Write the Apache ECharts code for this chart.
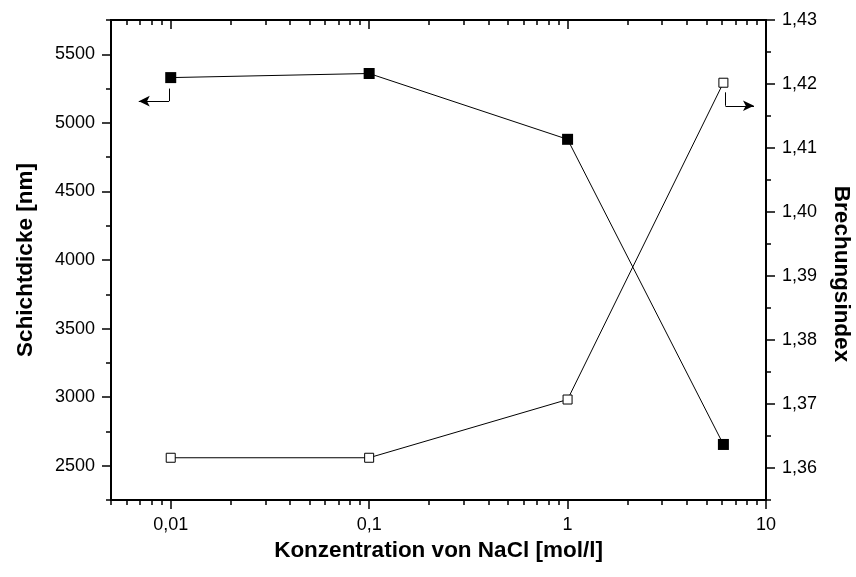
<!DOCTYPE html>
<html>
<head>
<meta charset="utf-8">
<script src="https://cdn.jsdelivr.net/npm/echarts@6/dist/echarts.min.js"></script>
<style>
  html, body { margin: 0; padding: 0; background: #fff; }
  #chart { width: 856px; height: 577px; }
</style>
</head>
<body>
<div id="chart"></div>
<script>
// NaCl concentration in mol/l
const concentration = [0.01, 0.1, 1, 6.1];
// Layer thickness in nm (left axis, filled squares)
const thickness = [5330, 5360, 4880, 2655];
// Refractive index (right axis, open squares)
const refractiveIndex = [1.3616, 1.3616, 1.3707, 1.4202];

// Tick values
const xMajorTicks = [0.01, 0.1, 1, 10];
const xMinorTicks = [0.005, 0.006, 0.007, 0.008, 0.009,
  0.02, 0.03, 0.04, 0.05, 0.06, 0.07, 0.08, 0.09,
  0.2, 0.3, 0.4, 0.5, 0.6, 0.7, 0.8, 0.9,
  2, 3, 4, 5, 6, 7, 8, 9];
const leftMajorTicks = [2500, 3000, 3500, 4000, 4500, 5000, 5500];
const leftMinorTicks = [2250, 2750, 3250, 3750, 4250, 4750, 5250, 5750];
const rightMajorTicks = [1.36, 1.37, 1.38, 1.39, 1.40, 1.41, 1.42, 1.43];
const rightMinorTicks = [1.355, 1.365, 1.375, 1.385, 1.395, 1.405, 1.415, 1.425];

const FONT = "'Liberation Sans', Arial, Helvetica, sans-serif";
const comma = v => String(+v.toFixed(4)).replace('.', ',');
const rightLabel = v => v.toFixed(2).replace('.', ',');

const chart = echarts.init(document.getElementById('chart'), null, { renderer: 'canvas' });

const axisLine = { show: true, onZero: false, lineStyle: { color: '#000', width: 2 } };
const labelStyle = { color: '#000', fontFamily: FONT, fontSize: 18 };
const nameStyle = { color: '#000', fontFamily: FONT, fontSize: 22.5, fontWeight: 'bold' };

function xAxisDef(position, ticks, len, inside, withLabels, withName) {
  return {
    type: 'log', logBase: 10, min: 0.005, max: 10, gridIndex: 0,
    position: position,
    name: withName ? 'Konzentration von NaCl [mol/l]' : '',
    nameLocation: 'middle', nameGap: 37, nameTextStyle: nameStyle,
    axisLine: axisLine,
    splitLine: { show: false },
    axisTick: { show: true, inside: inside, length: len, customValues: ticks,
      lineStyle: { color: '#000', width: 1.5 } },
    axisLabel: withLabels
      ? Object.assign({ show: true, margin: 16, customValues: ticks, formatter: comma }, labelStyle)
      : { show: false }
  };
}

function yAxisDef(position, min, max, ticks, len, withLabels, name, fmt, nameGap, rot, namePad) {
  return {
    type: 'value', min: min, max: max, position: position, gridIndex: 0,
    name: name, nameLocation: 'middle', nameGap: nameGap, nameRotate: rot,
    nameTextStyle: Object.assign({ padding: namePad || 0 }, nameStyle),
    axisLine: axisLine,
    splitLine: { show: false },
    axisTick: { show: true, inside: false, length: len, customValues: ticks,
      lineStyle: { color: '#000', width: 1.5 } },
    axisLabel: withLabels
      ? Object.assign({ show: true, margin: 16, customValues: ticks, formatter: fmt }, labelStyle)
      : { show: false }
  };
}

const arrowLine = {
  silent: true, animation: false,
  symbol: ['none', 'arrow'], symbolSize: [8, 11],
  label: { show: false },
  lineStyle: { color: '#000', width: 1, type: 'solid' },
  emphasis: { disabled: true }
};

const option = {
  backgroundColor: '#fff',
  animation: false,
  grid: { left: 111, right: 90, top: 20, bottom: 77, containLabel: false, outerBoundsMode: 'none' },
  xAxis: [
    xAxisDef('bottom', xMajorTicks, 9, false, true, true),
    xAxisDef('bottom', xMinorTicks, 5, false, false, false),
    xAxisDef('top', xMajorTicks, 9, true, false, false),
    xAxisDef('top', xMinorTicks, 5, true, false, false)
  ],
  yAxis: [
    yAxisDef('left', 2250, 5750, leftMajorTicks, 9, true, 'Schichtdicke [nm]', v => String(v), 74, 90),
    yAxisDef('right', 1.355, 1.43, rightMajorTicks, 9, true, 'Brechungsindex', rightLabel, 64, -90, [0, 0, 0, 28]),
    yAxisDef('left', 2250, 5750, leftMinorTicks, 5, false, '', null, 0, 0),
    yAxisDef('right', 1.355, 1.43, rightMinorTicks, 5, false, '', null, 0, 0)
  ],
  series: [
    {
      name: 'Schichtdicke',
      type: 'line', xAxisIndex: 0, yAxisIndex: 0,
      data: concentration.map((c, i) => [c, thickness[i]]),
      symbol: 'rect', symbolSize: 11,
      itemStyle: { color: '#000' },
      lineStyle: { color: '#000', width: 1 },
      markLine: Object.assign({}, arrowLine, {
        data: [
          [{ coord: [0.0098, 5250], symbol: 'none' }, { coord: [0.0098, 5158], symbol: 'none' }],
          [{ coord: [0.0098, 5158] }, { coord: [0.0069, 5158] }]
        ]
      })
    },
    {
      name: 'Brechungsindex',
      type: 'line', xAxisIndex: 0, yAxisIndex: 1,
      data: concentration.map((c, i) => [c, refractiveIndex[i]]),
      symbol: 'rect', symbolSize: 9,
      itemStyle: { color: '#fff', borderColor: '#000', borderWidth: 1 },
      lineStyle: { color: '#000', width: 1 },
      markLine: Object.assign({}, arrowLine, {
        data: [
          [{ coord: [6.25, 1.4187], symbol: 'none' }, { coord: [6.25, 1.4166], symbol: 'none' }],
          [{ coord: [6.25, 1.4166] }, { coord: [8.7, 1.4166] }]
        ]
      })
    }
  ]
};

chart.setOption(option);
</script>
</body>
</html>
